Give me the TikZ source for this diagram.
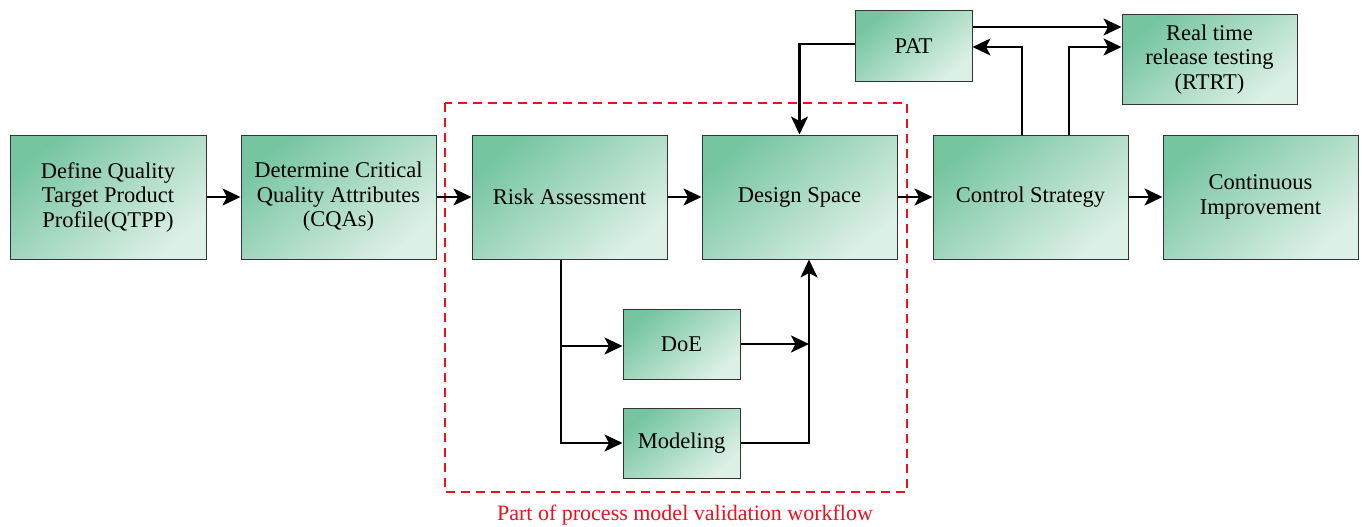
\documentclass[tikz,border=0pt]{standalone}
\usepackage{fontspec}
\setmainfont{Liberation Serif}
\usetikzlibrary{arrows.meta}
\definecolor{gdark}{HTML}{76C5A1}
\definecolor{glight}{HTML}{DDF0E6}
\definecolor{bordergray}{HTML}{333333}
\definecolor{dashred}{HTML}{E8131B}
\tikzset{
  box/.style={draw=bordergray, line width=1pt, top color=gdark, bottom color=glight, shading angle=40,
    minimum width=195pt, minimum height=124pt, inner sep=0pt, align=center,
    font=\fontsize{22.5}{24.5}\selectfont},
  smallbox/.style={box, minimum width=117pt, minimum height=70pt},
  arr/.style={line width=2.2pt, -{Stealth[length=18pt,width=17pt,inset=4.5pt]}},
}
\begin{document}
\begin{tikzpicture}[x=1pt,y=-1pt]
\useasboundingbox (0,0) rectangle (1362,527);
\node[box, minimum width=196pt] (q) at (108,197) {Define Quality\\Target Product\\Profile(QTPP)};
\node[box] (c) at (338.5,197) {Determine Critical\\Quality Attributes\\(CQAs)};
\node[box] (r) at (569.5,197) {Risk Assessment};
\node[box] (d) at (799.5,197) {Design Space};
\node[box] (cs) at (1030.5,197) {Control Strategy};
\node[box] (ci) at (1260.5,197) {Continuous\\Improvement};
\node[smallbox] (pat) at (913.5,46) {PAT};
\node[smallbox, minimum width=175pt, minimum height=89pt] (rt) at (1209.5,59.5) {Real time\\release testing\\(RTRT)};
\node[smallbox] (doe) at (681.5,344) {DoE};
\node[smallbox] (mod) at (681.5,443) {Modeling};
\draw[dashred, line width=2.5pt, dash pattern=on 9pt off 6pt] (445,103) rectangle (907,492);
\node[text=dashred, font=\fontsize{22}{24}\selectfont] (lbl) at (685,515) {Part of process model validation workflow};
\draw[arr] (q) -- (c);
\draw[arr] (c) -- (r);
\draw[arr] (r) -- (d);
\draw[arr] (d) -- (cs);
\draw[arr] (cs) -- (ci);
\draw[arr] (pat.east |- 0,27) -- (rt.west |- 0,27);
\draw[arr] (cs.north -| 1022,0) |- (pat.east |- 0,47);
\draw[arr] (cs.north -| 1069,0) |- (rt.west |- 0,47);
\draw[arr] (pat.west |- 0,44) -| (d.north);
\coordinate (split) at (561,346);
\coordinate (join) at (809,344);
\draw[arr] (r.south -| split) |- (mod.west);
\draw[arr] (split) -- (doe.west |- split);
\draw[arr] (doe.east) -- (join);
\draw[arr] (mod.east) -| (d.south -| join);
\end{tikzpicture}
\end{document}
